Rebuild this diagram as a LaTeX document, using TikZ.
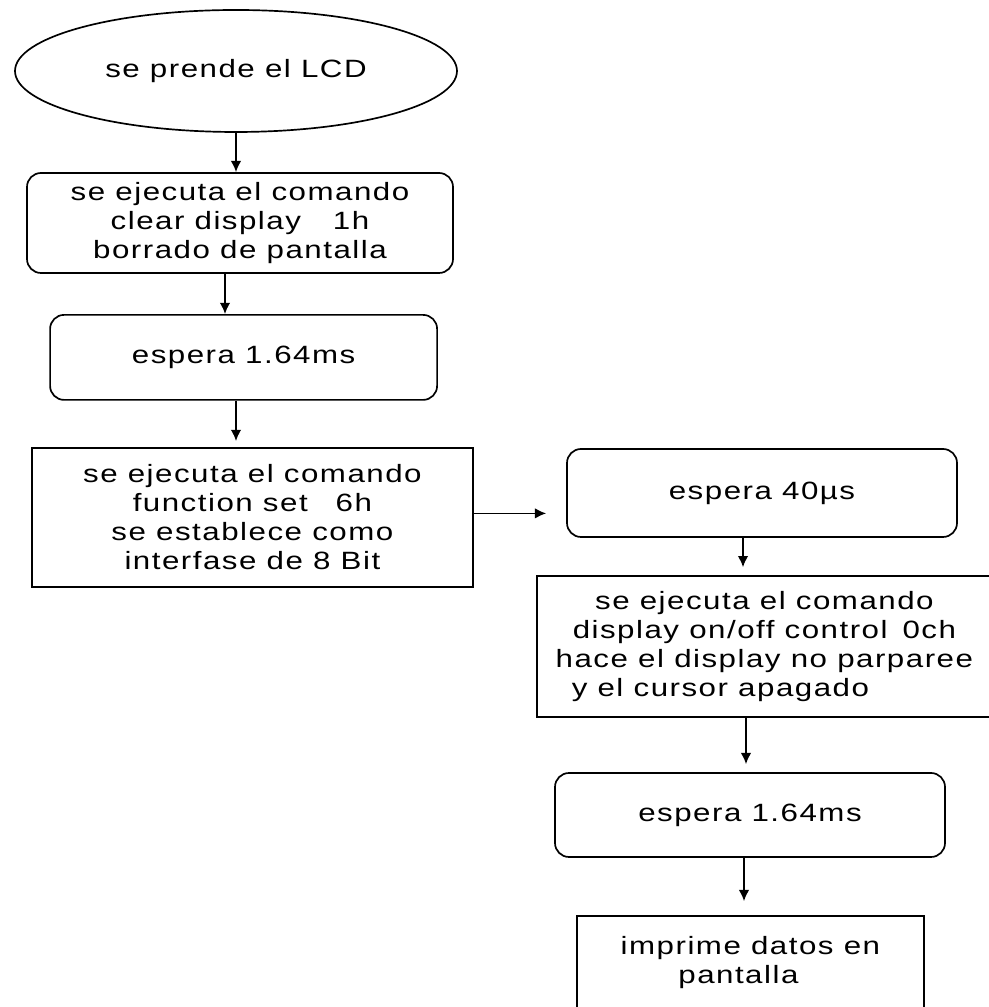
\documentclass[tikz,border=0pt]{standalone}
\usepackage{fontspec}
\setmainfont{Liberation Sans}[FakeStretch=1.25,LetterSpace=6]
\usetikzlibrary{shapes.geometric,arrows.meta}

\begin{document}
\begin{tikzpicture}[
    every node/.style={font=\fontsize{17.8}{20.6}\selectfont, align=center},
    bloque/.style={draw, rectangle, line width=1.2pt, inner sep=0pt},
    redondo/.style={bloque, rounded corners=0.35cm},
    flecha/.style={-{Latex[length=8pt,width=7.5pt]}, line width=1.2pt}
]
    % Marco del dibujo
    \useasboundingbox (0,0) rectangle (24.7,25.175);

    % Columna izquierda
    \node[draw, ellipse, line width=1.2pt, minimum width=11.05cm, minimum height=3.05cm, inner sep=0pt] (inicio) at (5.9,23.4) {se prende el LCD};
    \node[redondo, minimum width=10.65cm, minimum height=2.5cm] (borrar) at (6.0,19.6)
        {se ejecuta el comando\\clear display\hspace{0.8cm}1h\\borrado de pantalla};
    \node[redondo, minimum width=9.675cm, minimum height=2.125cm] (espera1) at (6.09,16.24) {espera 1.64ms};
    \node[bloque, minimum width=11.025cm, minimum height=3.475cm] (funcion) at (6.31,12.24)
        {se ejecuta el comando\\function set\hspace{0.7cm}6h\\se establece como\\interfase de 8 Bit};

    % Columna derecha
    \node[redondo, minimum width=9.75cm, minimum height=2.2cm] (espera2) at (19.05,12.85) {espera 40µs};
    \node[bloque, minimum width=11.375cm, minimum height=3.525cm] (display) at (19.11,9.01)
        {se ejecuta el comando\\display on/off control\hspace{0.375cm}0ch\\hace el display no parparee\\y el cursor apagado\hspace*{2.2cm}};
    \node[redondo, minimum width=9.75cm, minimum height=2.1cm] (espera3) at (18.75,4.8) {espera 1.64ms};
    \node[bloque, minimum width=8.675cm, minimum height=2.35cm] (imprime) at (18.76,1.1)
        {imprime datos en\\pantalla\hspace*{0.6cm}};

    % Flechas
    \draw[flecha] (inicio.south) -- (inicio.south |- borrar.north);
    \draw[flecha] ([xshift=-0.375cm]borrar.south) -- ([xshift=-0.375cm]borrar.south |- espera1.north);
    \draw[flecha, shorten >=0.15cm] ([xshift=-0.19cm]espera1.south) -- ([xshift=-0.19cm]espera1.south |- funcion.north);
    \draw[flecha, shorten >=0.5cm] ([yshift=0.1cm]funcion.east) -- ([yshift=0.1cm]funcion.east -| espera2.west);
    \draw[flecha, shorten >=0.2cm] ([xshift=-0.475cm]espera2.south) -- ([xshift=-0.475cm]espera2.south |- display.north);
    \draw[flecha, shorten >=0.2cm] ([xshift=-0.46cm]display.south) -- ([xshift=-0.46cm]display.south |- espera3.north);
    \draw[flecha, shorten >=0.35cm] ([xshift=-0.15cm]espera3.south) -- ([xshift=-0.15cm]espera3.south |- imprime.north);
\end{tikzpicture}
\end{document}
